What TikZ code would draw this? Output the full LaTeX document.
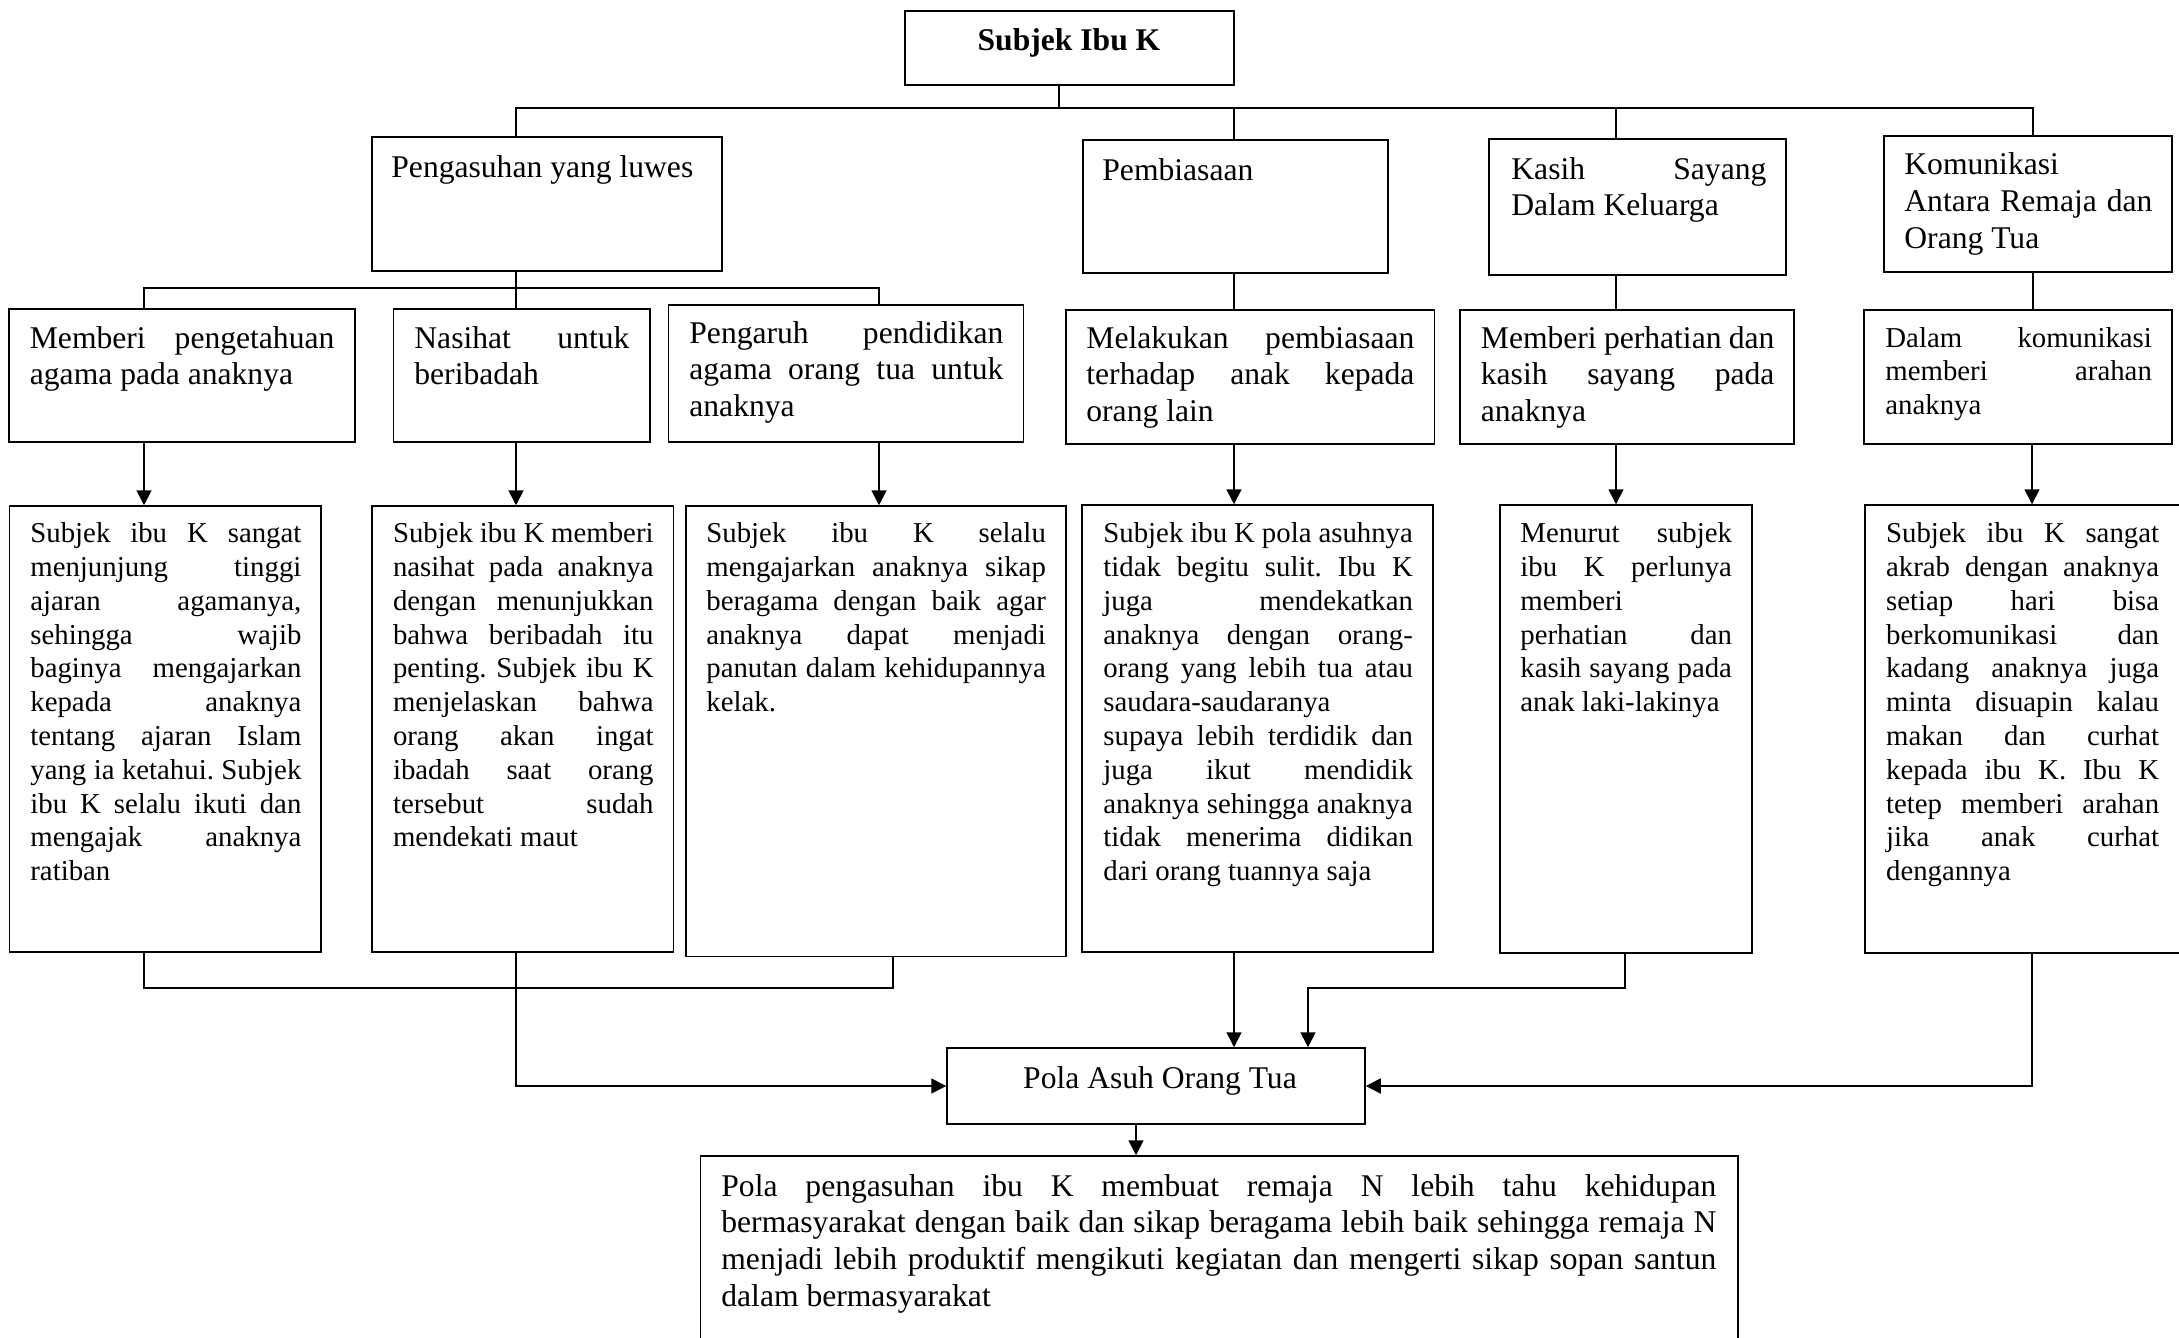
\documentclass[tikz,border=0pt]{standalone}
\usepackage{fontspec}
\setmainfont{Liberation Serif}
\usetikzlibrary{arrows.meta,fit}
\frenchspacing
\newcommand\nsp{\spaceskip=0pt\xspaceskip=0pt\frenchspacing\relax}
\newcommand\jl[1]{\makebox[\hsize][s]{#1}}
\begin{document}
\begin{tikzpicture}[x=0.5pt,y=-0.5pt,
  box/.style={draw,line width=0.75pt,inner sep=0pt},
  lbl/.style={inner sep=0pt,anchor=base west},
  para/.style={inner sep=0pt,anchor=base west,align=justify},
  big/.style={font=\fontsize{15.8}{18.4}\selectfont},
  small/.style={font=\fontsize{14.4}{16.9}\selectfont},
  link/.style={line width=0.85pt},
  arr/.style={line width=0.85pt,-{Triangle[length=7.5pt,width=7.5pt]}}]
\fill[white] (0,0) rectangle (2179,1338);
\useasboundingbox (0,0) rectangle (2179,1338);
\clip (0,0) rectangle (2179,1338);

% boxes
\node[box, fit={(905,11)(1234,85)}] (T) {};
\node[box, fit={(372,137)(722,271)}] (P1) {};
\node[box, fit={(1083,140)(1388,273)}] (P2) {};
\node[box, fit={(1489,139)(1786,275)}] (P3) {};
\node[box, fit={(1884,136)(2172,272)}] (P4) {};
\node[box, fit={(9,309)(355,442)}] (Q1) {};
\node[box, fit={(393.5,309)(650,442)}] (Q2) {};
\node[box, fit={(668.5,305)(1023.5,442)}] (Q3) {};
\node[box, fit={(1066,310)(1434.5,444)}] (Q4) {};
\node[box, fit={(1460,310)(1794,444)}] (Q5) {};
\node[box, fit={(1864,310)(2172,444)}] (Q6) {};
\node[box, fit={(9.6,506)(321,952)}] (R1) {};
\node[box, fit={(372,506)(673.6,952)}] (R2) {};
\node[box, fit={(686,506)(1066,956.5)}] (R3) {};
\node[box, fit={(1082,505)(1433,952)}] (R4) {};
\node[box, fit={(1500,505)(1752,953)}] (R5) {};
\node[box, fit={(1865,505)(2200,953)}] (R6) {};
\node[box, fit={(947,1048)(1365,1124)}] (Pola) {};
\node[box, fit={(700.7,1156)(1738,1380)}] (F) {};

% texts
\node[inner sep=0pt,anchor=base,font=\fontsize{15.8}{18.4}\selectfont\bfseries] (Tt) at (1069,50.5) {Subjek Ibu K};
\node[lbl,big] (P1t) at (391,177) {Pengasuhan yang luwes};
\node[lbl,big] (P2t) at (1102,180) {Pembiasaan};
\node[para,big,text width=127.5pt] (P3t) at (1511,179) {\nsp\jl{Kasih Sayang}\\Dalam Keluarga};
\node[para,big,text width=124pt] (P4t) at (1904,175) {\nsp Komunikasi\\\jl{Antara Remaja dan}\\Orang Tua};

\node[para,big,text width=152.25pt] (Q1t) at (29.5,348) {\nsp\jl{Memberi pengetahuan}\\agama pada anaknya};
\node[para,big,text width=107.5pt] (Q2t) at (414,348) {\nsp\jl{Nasihat untuk}\\beribadah};
\node[para,big,text width=157pt] (Q3t) at (689,343) {\nsp\jl{Pengaruh pendidikan}\\\jl{agama orang tua untuk}\\anaknya};
\node[para,big,text width=164pt] (Q4t) at (1086,348) {\nsp\jl{Melakukan pembiasaan}\\\jl{terhadap anak kepada}\\orang lain};
\node[para,big,text width=146.75pt] (Q5t) at (1480.5,348) {\nsp\jl{Memberi perhatian dan}\\\jl{kasih sayang pada}\\anaknya};
\node[para,small,text width=133.25pt] (Q6t) at (1885,347) {\nsp\jl{Dalam komunikasi}\\\jl{memberi arahan}\\anaknya};

\node[para,small,text width=135.5pt] (R1t) at (30,542.6) {\nsp\jl{Subjek ibu K sangat}\\\jl{menjunjung tinggi}\\\jl{ajaran agamanya,}\\\jl{sehingga wajib}\\\jl{baginya mengajarkan}\\\jl{kepada anaknya}\\\jl{tentang ajaran Islam}\\\jl{yang ia ketahui. Subjek}\\\jl{ibu K selalu ikuti dan}\\\jl{mengajak anaknya}\\ratiban};
\node[para,small,text width=130.3pt] (R2t) at (392.6,542.6) {\nsp\jl{Subjek ibu K memberi}\\\jl{nasihat pada anaknya}\\\jl{dengan menunjukkan}\\\jl{bahwa beribadah itu}\\\jl{penting. Subjek ibu K}\\\jl{menjelaskan bahwa}\\\jl{orang akan ingat}\\\jl{ibadah saat orang}\\\jl{tersebut sudah}\\mendekati maut};
\node[para,small,text width=169.75pt] (R3t) at (706,542.6) {\nsp\jl{Subjek ibu K selalu}\\\jl{mengajarkan anaknya sikap}\\\jl{beragama dengan baik agar}\\\jl{anaknya dapat menjadi}\\\jl{panutan dalam kehidupannya}\\kelak.};
\node[para,small,text width=154.75pt] (R4t) at (1103,542.6) {\nsp\jl{Subjek ibu K pola asuhnya}\\\jl{tidak begitu sulit. Ibu K}\\\jl{juga mendekatkan}\\\jl{anaknya dengan orang-}\\\jl{orang yang lebih tua atau}\\saudara-saudaranya\\\jl{supaya lebih terdidik dan}\\\jl{juga ikut mendidik}\\\jl{anaknya sehingga anaknya}\\\jl{tidak menerima didikan}\\dari orang tuannya saja};
\node[para,small,text width=105.8pt] (R5t) at (1520,542.6) {\nsp\jl{Menurut subjek}\\\jl{ibu K perlunya}\\memberi\\\jl{perhatian dan}\\\jl{kasih sayang pada}\\anak laki-lakinya};
\node[para,small,text width=136.5pt] (R6t) at (1885.7,542.6) {\nsp\jl{Subjek ibu K sangat}\\\jl{akrab dengan anaknya}\\\jl{setiap hari bisa}\\\jl{berkomunikasi dan}\\\jl{kadang anaknya juga}\\\jl{minta disuapin kalau}\\\jl{makan dan curhat}\\\jl{kepada ibu K. Ibu K}\\\jl{tetep memberi arahan}\\\jl{jika anak curhat}\\dengannya};

\node[inner sep=0pt,anchor=base,big] (Polat) at (1160,1088) {Pola Asuh Orang Tua};
\node[para,big,text width=497.5pt] (Ft) at (721,1196) {\nsp\jl{Pola pengasuhan ibu K membuat remaja N lebih tahu kehidupan}\\\jl{bermasyarakat dengan baik dan sikap beragama lebih baik sehingga remaja N}\\\jl{menjadi lebih produktif mengikuti kegiatan dan mengerti sikap sopan santun}\\dalam bermasyarakat};

% connector coordinates
\coordinate (xT) at (1059,0);
\coordinate (xP1) at (516,0);
\coordinate (xP2) at (1234,0);
\coordinate (xP3) at (1616,0);
\coordinate (xP4) at (2033,0);
\coordinate (xQ1) at (144,0);
\coordinate (xQ3) at (879,0);
\coordinate (xR3) at (893,0);
\coordinate (xR5) at (1625,0);
\coordinate (xR6) at (2032,0);
\coordinate (xPin) at (1308,0);
\coordinate (xPo) at (1136,0);
\coordinate (bus) at (0,108);
\coordinate (bus2) at (0,288);
\coordinate (join1) at (0,988);

% connectors
\draw[link] (T.south -| xT) -- (xT |- bus);
\draw[link] (P1.north -| xP1) -- (xP1 |- bus) -- (xP4 |- bus) -- (P4.north -| xP4);
\draw[link] (xP2 |- bus) -- (P2.north -| xP2);
\draw[link] (xP3 |- bus) -- (P3.north -| xP3);
\draw[link] (P1.south -| xP1) -- (Q2.north -| xP1);
\draw[link] (Q1.north -| xQ1) -- (xQ1 |- bus2) -- (xQ3 |- bus2) -- (Q3.north -| xQ3);
\draw[link] (P2.south -| xP2) -- (Q4.north -| xP2);
\draw[link] (P3.south -| xP3) -- (Q5.north -| xP3);
\draw[link] (P4.south -| xP4) -- (Q6.north -| xP4);

\draw[arr] (Q1.south -| xQ1) -- (R1.north -| xQ1);
\draw[arr] (Q2.south -| xP1) -- (R2.north -| xP1);
\draw[arr] (Q3.south -| xQ3) -- (R3.north -| xQ3);
\draw[arr] (Q4.south -| xP2) -- (R4.north -| xP2);
\draw[arr] (Q5.south -| xP3) -- (R5.north -| xP3);
\draw[arr] (Q6.south -| xR6) -- (R6.north -| xR6);

\draw[link] (R1.south -| xQ1) -- (xQ1 |- join1) -- (xR3 |- join1) -- (R3.south -| xR3);
\draw[arr] (R2.south -| xP1) |- (Pola.west);
\draw[arr] (R4.south -| xP2) -- (Pola.north -| xP2);
\draw[arr] (R5.south -| xR5) -- (xR5 |- join1) -- (xPin |- join1) -- (Pola.north -| xPin);
\draw[arr] (R6.south -| xR6) |- (Pola.east);
\draw[arr] (Pola.south -| xPo) -- (F.north -| xPo);
\end{tikzpicture}
\end{document}
